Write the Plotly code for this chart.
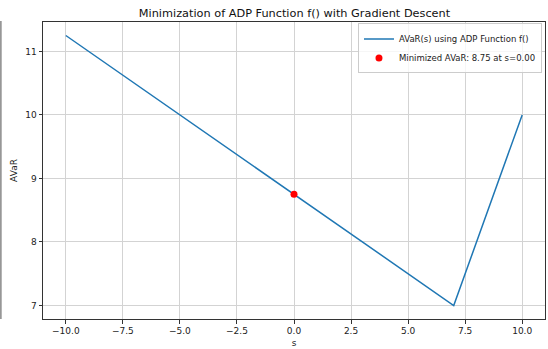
import plotly.graph_objects as go

# Data
s_values = [-10.0, 7.0, 10.0]
avar_values = [11.25, 7.0, 10.0]
min_s = [0.0]
min_avar = [8.75]
x_ticks = [-10.0, -7.5, -5.0, -2.5, 0.0, 2.5, 5.0, 7.5, 10.0]
y_ticks = [7, 8, 9, 10, 11]

W, H = 548, 349
L, R, T, B = 43, 2, 22, 28
pw, ph = W - L - R, H - T - B

fig = go.Figure()
fig.add_trace(go.Scatter(
    x=s_values, y=avar_values, mode="lines",
    line=dict(color="#1f77b4", width=1.5),
    name="AVaR(s) using ADP Function f()"))
fig.add_trace(go.Scatter(
    x=min_s, y=min_avar, mode="markers",
    marker=dict(color="red", size=7),
    name="Minimized AVaR: 8.75 at s=0.00"))

axis_common = dict(
    showgrid=True, gridcolor="#d3d3d3", gridwidth=1,
    showline=True, linecolor="#333333", linewidth=1, mirror=True,
    ticks="outside", ticklen=3.5, tickcolor="#333333", tickwidth=1,
    zeroline=False, tickfont=dict(size=9, color="#222222"),
)
fig.update_xaxes(range=[-11, 11], tickvals=x_ticks,
                 ticktext=[f"{v:.1f}".replace("-", "\u2212") for v in x_ticks],
                 title=dict(text="s", font=dict(size=9, color="#222222"), standoff=4),
                 **axis_common)
fig.update_yaxes(range=[6.7875, 11.4625], tickvals=y_ticks,
                 title=dict(text="AVaR", font=dict(size=9, color="#222222"), standoff=6),
                 **axis_common)

# cropped neighbouring axis spine at the far left edge
fig.add_shape(type="line", xref="paper", yref="paper",
              x0=(0.8 - L) / pw, x1=(0.8 - L) / pw,
              y0=0, y1=(H - B - 21) / ph,
              line=dict(color="#888888", width=1.5))

fig.update_layout(
    width=W, height=H,
    margin=dict(l=L, r=R, t=T, b=B),
    paper_bgcolor="white", plot_bgcolor="white",
    font=dict(family="DejaVu Sans", color="#222222"),
    title=dict(text="Minimization of ADP Function f() with Gradient Descent",
               x=0.5 * (L + L + pw) / W, xanchor="center", y=1 - 13 / H, yanchor="middle",
               font=dict(size=11.3, color="#111111")),
    legend=dict(x=0.994, y=0.995, xanchor="right", yanchor="top",
                bgcolor="rgba(255,255,255,0.8)", bordercolor="#cccccc", borderwidth=1,
                font=dict(size=8.5, color="#222222"), tracegroupgap=0,
                itemwidth=30),
    showlegend=True,
)

fig.write_html("out.html", config={"displayModeBar": False},
               post_script="document.body.style.margin='0';document.body.style.overflow='hidden';")
